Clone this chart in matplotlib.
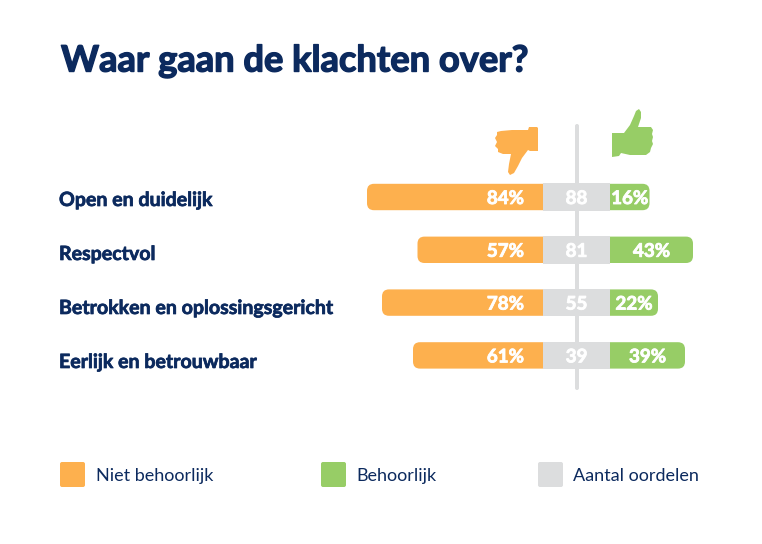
import matplotlib
matplotlib.use('Agg')
import matplotlib.pyplot as plt
import matplotlib.patheffects as pe
from matplotlib.patches import FancyBboxPatch, Polygon

plt.rcParams['font.family'] = ['Lato', 'DejaVu Sans']

# values
categories = ['Open en duidelijk', 'Respectvol', 'Betrokken en oplossingsgericht', 'Eerlijk en betrouwbaar']
niet_pct = [84, 57, 78, 61]
goed_pct = [16, 43, 22, 39]
aantal = [88, 81, 55, 39]
# bar lengths as drawn in the picture (they are not quite proportional to the labels)
niet_len = [176, 125.5, 161, 130]
goed_len = [39.5, 83, 48, 75]
legend_labels = ['Niet behoorlijk', 'Behoorlijk', 'Aantal oordelen']
title = 'Waar gaan de klachten over?'

NAVY = '#0c2a5e'
ORANGE = '#fdb04e'
GREEN = '#97cd66'
GREY = '#dcddde'

W, H = 762, 544
fig = plt.figure(figsize=(W / 100, H / 100), dpi=100)


def heavy(width, color):
    # fake a heavier weight, Lato Bold is thinner than the original font
    return [pe.withStroke(linewidth=width, foreground=color)]


# page layer in pixel coords
page = fig.add_axes([0, 0, 1, 1])
page.set_xlim(0, W)
page.set_ylim(H, 0)
page.axis('off')

page.text(61, 61, title, fontsize=26.1, fontweight='bold', color=NAVY, va='center', ha='left',
          path_effects=heavy(1.0, NAVY))

# divider behind the bars
page.add_patch(FancyBboxPatch((575, 124), 4, 266, boxstyle='round,pad=0,rounding_size=2', fc=GREY, ec='none'))

# thumbs
down = [(501, 131), (512, 130), (528, 130), (529, 127), (537, 127), (538, 128), (538, 151), (530, 151),
        (528, 150), (522, 158), (518, 166), (514, 173), (510, 175), (508, 172), (509, 164), (511, 154),
        (503, 154), (498, 152), (498, 149), (495, 146), (497, 142), (495, 138), (497, 135), (497, 132)]
up = [(612, 133), (624, 133), (630, 125), (634, 116), (636, 111), (639, 109), (641, 112), (641, 118),
      (638, 127), (651, 127), (653, 130), (652, 134), (653, 137), (652, 141), (653, 144), (651, 148),
      (650, 152), (646, 155), (630, 155), (621, 153), (619, 156), (612, 157)]
page.add_patch(Polygon(down, closed=True, fc=ORANGE, ec='none'))
page.add_patch(Polygon(up, closed=True, fc=GREEN, ec='none'))

# legend
legend_x = [60, 321, 538]
legend_text_x = [96, 356, 573]
legend_colors = [ORANGE, GREEN, GREY]
for x, tx, c, lab in zip(legend_x, legend_text_x, legend_colors, legend_labels):
    page.add_patch(FancyBboxPatch((x, 462), 25, 25, boxstyle='round,pad=0,rounding_size=2', fc=c, ec='none'))
    page.text(tx, 476, lab, fontsize=13.0, color=NAVY, va='center', ha='left')

# bars, x in px from the left edge of the grey band, y in rows
left, right, top, bottom = 340, 720, 170, 400
ax = fig.add_axes([left / W, 1 - bottom / H, (right - left) / W, (bottom - top) / H])
ax.set_xlim(left - 543, right - 543)
pitch = 52.8
ax.set_ylim((bottom - 197) / pitch, (top - 197) / pitch)
ax.patch.set_alpha(0)
ax.axis('off')

band = 67
bar_h = 26.4 / pitch
for i in range(len(categories)):
    for start, length, c in [(-niet_len[i], niet_len[i] + 10, ORANGE), (band - 10, goed_len[i] + 10, GREEN)]:
        ax.add_patch(FancyBboxPatch((start, i - bar_h / 2), length, bar_h,
                                    boxstyle='round,pad=0,rounding_size=7', mutation_aspect=1 / pitch,
                                    fc=c, ec='none'))
ax.barh(range(len(categories)), [band] * len(categories), height=bar_h + 0.02, left=0, color=GREY, zorder=3)

num_style = dict(color='white', fontsize=13.5, fontweight='bold', va='center', zorder=4,
                 path_effects=heavy(0.6, 'white'))
label_y = [200, 254, 308, 362]
for i in range(len(categories)):
    y = i + 1.5 / pitch
    ax.text(-19, y, f'{niet_pct[i]}%', ha='right', **num_style)
    ax.text(band / 2, y, str(aantal[i]), ha='center', **num_style)
    ax.text(band + goed_len[i] / 2, y, f'{goed_pct[i]}%', ha='center', **num_style)
    page.text(59, label_y[i], categories[i], color=NAVY, fontsize=14.1, fontweight='bold', ha='left', va='center',
              path_effects=heavy(0.5, NAVY))

fig.savefig('out.png', dpi=100)
